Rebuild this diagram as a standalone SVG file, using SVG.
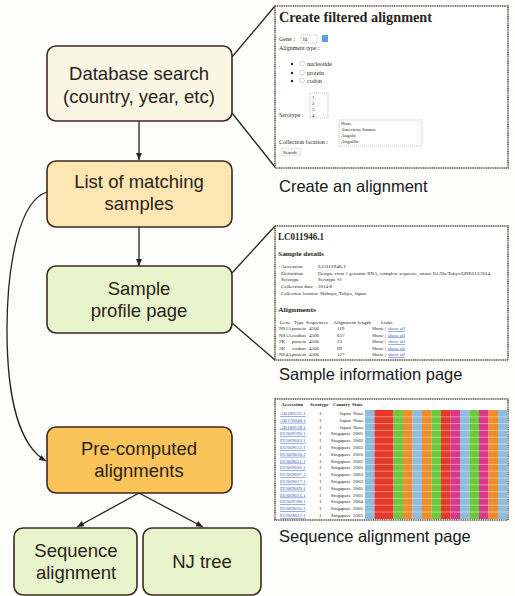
<svg xmlns="http://www.w3.org/2000/svg" width="515" height="596" viewBox="0 0 515 596">
<defs>
<marker id="ah" markerWidth="8" markerHeight="8" refX="7" refY="4" orient="auto" markerUnits="userSpaceOnUse">
<path d="M0,1 L7,4 L0,7 Z" fill="#2a2420"/>
</marker>
<style>
.node{stroke:#3a2a22;stroke-width:1.6}
.lbl{font-family:"Liberation Sans",Arial,sans-serif;font-size:18.5px;fill:#2a221c;text-anchor:middle}
.cap{font-family:"Liberation Sans",Arial,sans-serif;font-size:16.5px;fill:#1a1a1a}
.conn{fill:none;stroke:#2a2420;stroke-width:1.3}
.panel{fill:#ffffff;stroke:#5e524a;stroke-width:1.6;stroke-dasharray:1.2 0.6}
.ser{font-family:"Liberation Serif","Times New Roman",serif;fill:#2a2420}
.s5{font-size:5px}
.s6{font-size:6px}
.s7{font-size:7px}
.lnk{fill:#3a5ab8;text-decoration:underline}
.box{fill:#fff;stroke:#999;stroke-width:0.6;stroke-dasharray:1 1}
</style>
</defs>
<rect width="515" height="596" fill="#fcfcfa"/>

<g id="connectors">
<path class="conn" d="M139,121 L139,160" marker-end="url(#ah)"/>
<path class="conn" d="M139,227 L139,266" marker-end="url(#ah)"/>
<path class="conn" d="M47,192 C20,200 7,262 7,330 C7,400 20,446 46,461" marker-end="url(#ah)"/>
<path class="conn" d="M139,493 L77,527" marker-end="url(#ah)"/>
<path class="conn" d="M139,493 L203,527" marker-end="url(#ah)"/>
<path class="conn" d="M232,57 L275,6"/>
<path class="conn" d="M232,113 L275,167"/>
<path class="conn" d="M232,273 L275,226"/>
<path class="conn" d="M232,323 L275,360"/>
</g>

<g id="database-search">
<rect class="node" x="47" y="46" width="185" height="75" rx="9" fill="#fbf6e4"/>
<text class="lbl" x="139" y="80">Database search</text>
<text class="lbl" x="139" y="103">(country, year, etc)</text>
</g>
<g id="list-matching">
<rect class="node" x="47" y="161" width="185" height="66" rx="9" fill="#fde6b2"/>
<text class="lbl" x="139" y="188">List of matching</text>
<text class="lbl" x="139" y="210">samples</text>
</g>
<g id="sample-profile">
<rect class="node" x="47" y="266" width="185" height="67" rx="9" fill="#e8f4cb"/>
<text class="lbl" x="139" y="295">Sample</text>
<text class="lbl" x="139" y="317">profile page</text>
</g>
<g id="pre-computed">
<rect class="node" x="47" y="427" width="185" height="66" rx="9" fill="#fbc45a"/>
<text class="lbl" x="139" y="455">Pre-computed</text>
<text class="lbl" x="139" y="477">alignments</text>
</g>
<g id="sequence-alignment">
<rect class="node" x="14" y="528" width="123" height="67" rx="9" fill="#e8f4cb"/>
<text class="lbl" x="76" y="557">Sequence</text>
<text class="lbl" x="76" y="579">alignment</text>
</g>
<g id="nj-tree">
<rect class="node" x="143" y="528" width="118" height="67" rx="9" fill="#e8f4cb"/>
<text class="lbl" x="202" y="568">NJ tree</text>
</g>

<g id="panel-create">
<rect class="panel" x="275" y="6" width="233" height="162"/>
<text class="ser" x="279" y="22" font-size="15" font-weight="bold" textLength="153" lengthAdjust="spacingAndGlyphs">Create filtered alignment</text>
<text class="ser s6" x="279" y="41">Gene :</text>
<rect class="box" x="301" y="35" width="16" height="8"/>
<text class="ser s6" x="303" y="41">la</text>
<rect x="322" y="35" width="6" height="7" fill="#5aa0e0"/>
<text class="ser s6" x="279" y="50">Alignment type :</text>
<circle cx="292" cy="64" r="1.2" fill="#2a2420"/>
<circle cx="292" cy="73" r="1.2" fill="#2a2420"/>
<circle cx="292" cy="81" r="1.2" fill="#2a2420"/>
<circle cx="302" cy="63.5" r="2.5" fill="#fff" stroke="#bbb" stroke-width="0.6"/>
<circle cx="302" cy="72.5" r="2.5" fill="#fff" stroke="#bbb" stroke-width="0.6"/>
<circle cx="302" cy="80.5" r="2.5" fill="#fff" stroke="#bbb" stroke-width="0.6"/>
<text class="ser s6" x="307" y="66">nucleotide</text>
<text class="ser s6" x="307" y="75">protein</text>
<text class="ser s6" x="307" y="83">codon</text>
<rect class="box" x="310" y="93" width="18" height="25"/>
<text class="ser s5" x="312" y="99">1</text>
<text class="ser s5" x="312" y="105">2</text>
<text class="ser s5" x="312" y="111">3</text>
<text class="ser s5" x="312" y="117">4</text>
<text class="ser s6" x="279" y="117">Serotype :</text>
<rect class="box" x="339" y="120" width="83" height="26"/>
<text class="ser s5" x="341" y="125">None</text>
<text class="ser s5" x="341" y="131">American Samoa</text>
<text class="ser s5" x="341" y="137">Angola</text>
<text class="ser s5" x="341" y="143">Anguilla</text>
<text class="ser s6" x="279" y="144">Collection location :</text>
<rect x="281" y="148" width="20" height="8" fill="#f4f4f0" stroke="#ccc" stroke-width="0.4"/>
<text class="ser s5" x="283" y="154">Search</text>
</g>
<text class="cap" x="279" y="192">Create an alignment</text>

<g id="panel-sample">
<rect class="panel" x="275" y="226" width="233" height="134"/>
<text class="ser" x="278" y="240" font-size="11" font-weight="bold" textLength="46" lengthAdjust="spacingAndGlyphs">LC011946.1</text>
<text class="ser s7" x="278" y="256" font-weight="bold" textLength="46" lengthAdjust="spacingAndGlyphs">Sample details</text>
<g class="ser s5">
<text x="281" y="268" textLength="22" lengthAdjust="spacingAndGlyphs">Accession</text><text x="318" y="268" textLength="28" lengthAdjust="spacingAndGlyphs">LC011946.1</text>
<text x="281" y="275" textLength="22" lengthAdjust="spacingAndGlyphs">Definition</text><text x="318" y="275" textLength="172" lengthAdjust="spacingAndGlyphs">Dengue virus 1 genomic RNA, complete sequence, strain: D1/Hu/Tokyo/ONE013/2014</text>
<text x="281" y="281" textLength="18" lengthAdjust="spacingAndGlyphs">Serotype</text><text x="318" y="281" textLength="24" lengthAdjust="spacingAndGlyphs">Serotype #1</text>
<text x="281" y="288" textLength="32" lengthAdjust="spacingAndGlyphs">Collection date</text><text x="318" y="288" textLength="14" lengthAdjust="spacingAndGlyphs">2014-8</text>
<text x="281" y="295" textLength="37" lengthAdjust="spacingAndGlyphs">Collection location</text><text x="320" y="295" textLength="46" lengthAdjust="spacingAndGlyphs">Shibuya, Tokyo, Japan</text>
</g>
<text class="ser s7" x="278" y="312" font-weight="bold" textLength="38" lengthAdjust="spacingAndGlyphs">Alignments</text>
<g class="ser s5">
<text x="280" y="324">Gene</text><text x="294" y="324">Type</text><text x="306" y="324" textLength="22" lengthAdjust="spacingAndGlyphs">Sequences</text><text x="333" y="324" textLength="38" lengthAdjust="spacingAndGlyphs">Alignment length</text><text x="381" y="324">Links</text>
<text x="279" y="330">NS1A</text><text x="292" y="330" textLength="14" lengthAdjust="spacingAndGlyphs">protein</text><text x="309" y="330">4506</text><text x="337" y="330">119</text><text x="372" y="330">Show |</text><text class="lnk" x="388" y="330">show all</text>
<text x="279" y="336.5">NS5A</text><text x="292" y="336.5" textLength="14" lengthAdjust="spacingAndGlyphs">codon</text><text x="309" y="336.5">4506</text><text x="337" y="336.5">657</text><text x="372" y="336.5">Show |</text><text class="lnk" x="388" y="336.5">show all</text>
<text x="279" y="343">2K</text><text x="292" y="343" textLength="14" lengthAdjust="spacingAndGlyphs">protein</text><text x="309" y="343">4506</text><text x="337" y="343">23</text><text x="372" y="343">Show |</text><text class="lnk" x="388" y="343">show all</text>
<text x="279" y="349.5">2K</text><text x="292" y="349.5" textLength="14" lengthAdjust="spacingAndGlyphs">codon</text><text x="309" y="349.5">4506</text><text x="337" y="349.5">69</text><text x="372" y="349.5">Show |</text><text class="lnk" x="388" y="349.5">show all</text>
<text x="279" y="356">NS4A</text><text x="292" y="356" textLength="14" lengthAdjust="spacingAndGlyphs">protein</text><text x="309" y="356">4506</text><text x="337" y="356">127</text><text x="372" y="356">Show |</text><text class="lnk" x="388" y="356">show all</text>
</g>
</g>
<text class="cap" x="279" y="380">Sample information page</text>

<g id="panel-seqaln">
<rect class="panel" x="275" y="399" width="233" height="121"/>
<g>
<rect x="365" y="410" width="9.6" height="109" fill="#8fbcdc"/>
<rect x="374.5" y="410" width="9.6" height="109" fill="#e8382a"/>
<rect x="384" y="410" width="9.6" height="109" fill="#e8382a"/>
<rect x="393.5" y="410" width="9.6" height="109" fill="#6cc83c"/>
<rect x="403" y="410" width="9.6" height="109" fill="#f08c2a"/>
<rect x="412.5" y="410" width="9.6" height="109" fill="#8fbcdc"/>
<rect x="422" y="410" width="9.6" height="109" fill="#f08c2a"/>
<rect x="431.5" y="410" width="9.6" height="109" fill="#6cc83c"/>
<rect x="441" y="410" width="9.6" height="109" fill="#e8382a"/>
<rect x="450.5" y="410" width="9.6" height="109" fill="#d83a8a"/>
<rect x="460" y="410" width="9.6" height="109" fill="#8fbcdc"/>
<rect x="469.5" y="410" width="9.6" height="109" fill="#6cc83c"/>
<rect x="479" y="410" width="9.6" height="109" fill="#d83a8a"/>
<rect x="488.5" y="410" width="9.6" height="109" fill="#f08c2a"/>
<rect x="498" y="410" width="9.6" height="109" fill="#8fbcdc"/>
<path d="M365,416.8H508M365,423.6H508M365,430.4H508M365,437.2H508M365,444H508M365,450.8H508M365,457.6H508M365,464.4H508M365,471.2H508M365,478H508M365,484.8H508M365,491.6H508M365,498.4H508M365,505.2H508M365,512H508" stroke="#fff" stroke-width="0.7" opacity="0.6"/>
</g>
<g class="ser s5" font-weight="bold">
<text x="281" y="406" textLength="22" lengthAdjust="spacingAndGlyphs">Accession</text><text x="310" y="406" textLength="19" lengthAdjust="spacingAndGlyphs">Serotype</text><text x="333" y="406" textLength="17" lengthAdjust="spacingAndGlyphs">Country</text><text x="352" y="406" textLength="11" lengthAdjust="spacingAndGlyphs">State</text>
</g>
<g class="ser s5">
<text class="lnk" x="280" y="415">AB189121.1</text><text x="319" y="415">1</text><text x="351" y="415" text-anchor="end">Japan</text><text x="353" y="415">None</text>
<text class="lnk" x="280" y="421.8">AB178040.1</text><text x="319" y="421.8">1</text><text x="351" y="421.8" text-anchor="end">Japan</text><text x="353" y="421.8">None</text>
<text class="lnk" x="280" y="428.6">AB189128.1</text><text x="319" y="428.6">1</text><text x="351" y="428.6" text-anchor="end">Japan</text><text x="353" y="428.6">None</text>
<text class="lnk" x="280" y="435.4">EU069590.1</text><text x="319" y="435.4">1</text><text x="351" y="435.4" text-anchor="end">Singapore</text><text x="353" y="435.4">2005</text>
<text class="lnk" x="280" y="442.2">EU069603.1</text><text x="319" y="442.2">1</text><text x="351" y="442.2" text-anchor="end">Singapore</text><text x="353" y="442.2">2002</text>
<text class="lnk" x="280" y="449">EU069612.1</text><text x="319" y="449">1</text><text x="351" y="449" text-anchor="end">Singapore</text><text x="353" y="449">2003</text>
<text class="lnk" x="280" y="455.8">EU069618.1</text><text x="319" y="455.8">1</text><text x="351" y="455.8" text-anchor="end">Singapore</text><text x="353" y="455.8">2003</text>
<text class="lnk" x="280" y="462.6">EU069621.1</text><text x="319" y="462.6">1</text><text x="351" y="462.6" text-anchor="end">Singapore</text><text x="353" y="462.6">2002</text>
<text class="lnk" x="280" y="469.4">EU069626.1</text><text x="319" y="469.4">1</text><text x="351" y="469.4" text-anchor="end">Singapore</text><text x="353" y="469.4">2005</text>
<text class="lnk" x="280" y="476.2">EU069607.1</text><text x="319" y="476.2">1</text><text x="351" y="476.2" text-anchor="end">Singapore</text><text x="353" y="476.2">2003</text>
<text class="lnk" x="280" y="483">EU069617.1</text><text x="319" y="483">1</text><text x="351" y="483" text-anchor="end">Singapore</text><text x="353" y="483">2003</text>
<text class="lnk" x="280" y="489.8">EU069609.1</text><text x="319" y="489.8">1</text><text x="351" y="489.8" text-anchor="end">Singapore</text><text x="353" y="489.8">2005</text>
<text class="lnk" x="280" y="496.6">EU069615.1</text><text x="319" y="496.6">1</text><text x="351" y="496.6" text-anchor="end">Singapore</text><text x="353" y="496.6">2005</text>
<text class="lnk" x="280" y="503.4">EU069598.1</text><text x="319" y="503.4">1</text><text x="351" y="503.4" text-anchor="end">Singapore</text><text x="353" y="503.4">2004</text>
<text class="lnk" x="280" y="510.2">EU069616.1</text><text x="319" y="510.2">1</text><text x="351" y="510.2" text-anchor="end">Singapore</text><text x="353" y="510.2">2005</text>
<text class="lnk" x="280" y="517">EU069622.1</text><text x="319" y="517">1</text><text x="351" y="517" text-anchor="end">Singapore</text><text x="353" y="517">2005</text>
</g>
</g>
<text class="cap" x="279" y="542">Sequence alignment page</text>
</svg>
